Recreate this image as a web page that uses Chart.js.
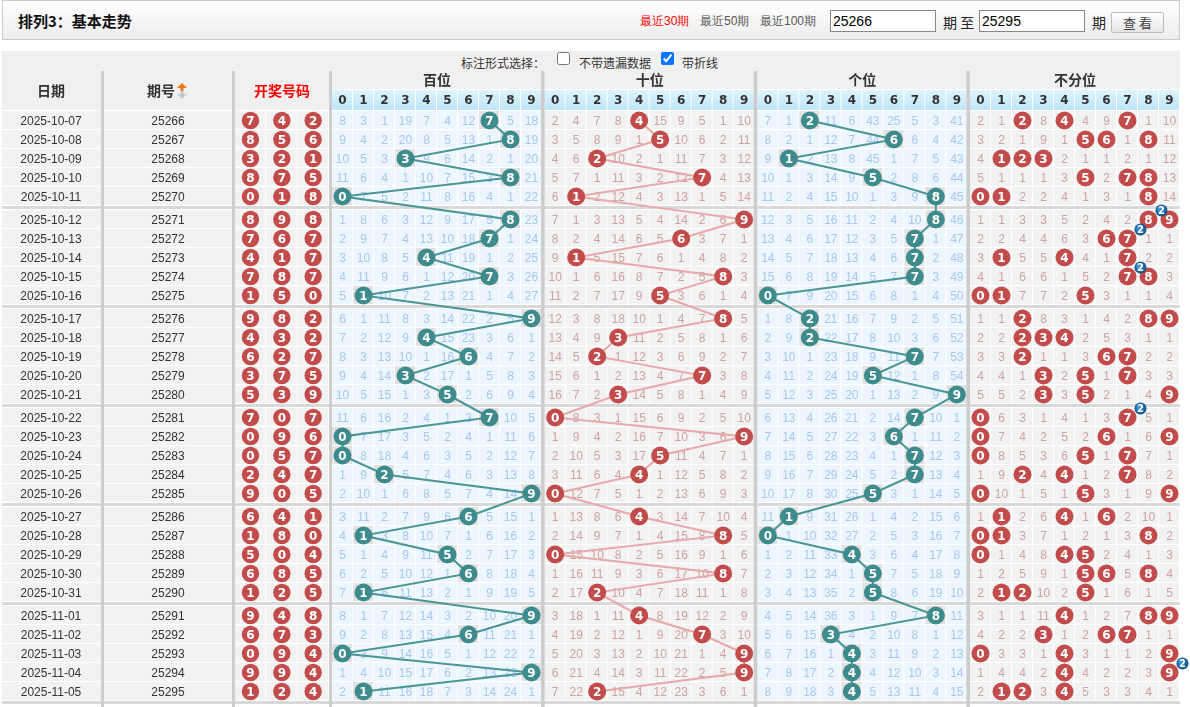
<!DOCTYPE html>
<html>
<head>
<meta charset="utf-8">
<script src="https://cdn.jsdelivr.net/npm/chart.js@4.4.1/dist/chart.umd.min.js"></script>
<style>
  body { margin: 0; background: #fff; width: 1190px; height: 707px; overflow: hidden; position: relative;
         font-family: "Liberation Sans", Arial, sans-serif; font-size: 12px; color: #333; }
  #bar { position: absolute; left: 2px; top: 0; width: 1176px; height: 38px; border: 1px solid #ccc;
         background: linear-gradient(#fff, #ececec); }
  #bar span, #bar input, #bar button { position: absolute; }
  .title { left: 15px; top: 9px; font: bold 15px "Noto Sans CJK SC", sans-serif; color: #111; }
  .lk { top: 12px; font-size: 12px; color: #555; }
  .red { color: #f00; }
  #bar input { top: 9px; width: 100px; height: 18px; border: 1px solid #888; font: 14px "Liberation Sans", Arial; padding: 1px 2px; }
  .qi { top: 11px; font: 14px "Noto Sans CJK SC", sans-serif; color: #222; }
  #bar button { left: 1108px; top: 11px; width: 53px; height: 21px; border: 1px solid #bbb; border-radius: 2px;
                background: linear-gradient(#fff, #e6e6e6); font: 13px "Noto Sans CJK SC", sans-serif; color: #444; padding: 0; }
  #opt { position: absolute; left: 2px; top: 51px; width: 1178px; height: 20px; background: #f0f0f0; }
  #opt span { position: absolute; top: 3px; font: 12px "Noto Sans CJK SC", sans-serif; color: #333; }
  #opt input { position: absolute; top: 1px; margin: 0; width: 13px; height: 13px; }
  #c { position: absolute; left: 0; top: 71px; }
</style>
</head>
<body>
<div id="bar">
  <span class="title">排列3：基本走势</span>
  <span class="lk red" style="left:637px">最近30期</span>
  <span class="lk" style="left:697px">最近50期</span>
  <span class="lk" style="left:757px">最近100期</span>
  <input style="left:827px" value="25266">
  <span class="qi" style="left:940px">期 至</span>
  <input style="left:976px" value="25295">
  <span class="qi" style="left:1089px">期</span>
  <button>查 看</button>
</div>
<div id="opt">
  <span style="left:459px">标注形式选择：</span>
  <input type="checkbox" style="left:555px">
  <span style="left:577px">不带遗漏数据</span>
  <input type="checkbox" checked style="left:659px">
  <span style="left:680px">带折线</span>
</div>
<canvas id="c" width="1190" height="636"></canvas>
<script>
// draw list, oldest first
const dates = ['2025-10-07','2025-10-08','2025-10-09','2025-10-10','2025-10-11',
  '2025-10-12','2025-10-13','2025-10-14','2025-10-15','2025-10-16',
  '2025-10-17','2025-10-18','2025-10-19','2025-10-20','2025-10-21',
  '2025-10-22','2025-10-23','2025-10-24','2025-10-25','2025-10-26',
  '2025-10-27','2025-10-28','2025-10-29','2025-10-30','2025-10-31',
  '2025-11-01','2025-11-02','2025-11-03','2025-11-04','2025-11-05'];
const issues = ['25266','25267','25268','25269','25270','25271','25272','25273','25274','25275',
  '25276','25277','25278','25279','25280','25281','25282','25283','25284','25285',
  '25286','25287','25288','25289','25290','25291','25292','25293','25294','25295'];
const hundreds = [7,8,3,8,0, 8,7,4,7,1, 9,4,6,3,5, 7,0,0,2,9, 6,1,5,6,1, 9,6,0,9,1];
const tens     = [4,5,2,7,1, 9,6,1,8,5, 8,3,2,7,3, 0,9,5,4,0, 4,8,0,8,2, 4,7,9,9,2];
const units    = [2,6,1,5,8, 8,7,7,7,0, 2,2,7,5,9, 7,6,7,7,5, 1,0,4,5,5, 8,3,4,4,4];

// missing counts shown in the first row (0 = drawn)
const baiFirst = [8,3,1,19,7,4,12,0,5,18];
const shiFirst = [2,4,7,8,0,15,9,5,1,10];
const geFirst  = [7,1,0,11,6,43,25,5,3,41];
const allFirst = [2,1,0,8,0,4,9,0,1,10];

const digitLabels = ['0','1','2','3','4','5','6','7','8','9'];
const sectionNames = ['百位','十位','个位','不分位'];

const TEAL = '#3d8b8c', TEAL_LINE = '#4a9596', RED = '#c24b4b', PINK = '#e8a9a9';
const SEC = 10.127;          // one section = 10 cells + border
const ROW_H = 19;
const GROUP_GAP = 4 / ROW_H; // gap between groups of 5 rows
const colX = (s, d) => s * SEC + d;
const rowY = r => r + Math.floor(r / 5) * GROUP_GAP;
const n = dates.length;

const hitAll = (r, d) => hundreds[r] === d || tens[r] === d || units[r] === d;
const sections = [
  { name: sectionNames[0], blue: true,  first: baiFirst, hit: (r, d) => hundreds[r] === d },
  { name: sectionNames[1], blue: false, first: shiFirst, hit: (r, d) => tens[r] === d },
  { name: sectionNames[2], blue: true,  first: geFirst,  hit: (r, d) => units[r] === d },
  { name: sectionNames[3], blue: false, first: allFirst, hit: hitAll }
];

function missing(sec) {
  const out = [];
  for (let r = 0; r < n; r++) {
    const row = [];
    for (let d = 0; d < 10; d++) {
      if (sec.hit(r, d)) row.push(0);
      else row.push(r === 0 ? sec.first[d] : out[r - 1][d] + 1);
    }
    out.push(row);
  }
  return out;
}
sections.forEach(s => { s.miss = missing(s); });

// datasets
const positional = [hundreds, tens, units].map((arr, s) => ({
  data: arr.map((d, r) => ({ x: colX(s, d), y: rowY(r) })),
  labels: arr.slice(),
  showLine: true,
  clip: false,
  borderColor: s === 1 ? PINK : TEAL_LINE,
  borderWidth: 2,
  pointRadius: 9,
  pointHoverRadius: 9,
  pointBorderWidth: 0,
  pointBackgroundColor: s === 1 ? RED : TEAL
}));

const allPts = [], allLabels = [], allCounts = [];
for (let r = 0; r < n; r++) {
  for (let d = 0; d < 10; d++) {
    const c = [hundreds[r], tens[r], units[r]].filter(v => v === d).length;
    if (c) { allPts.push({ x: colX(3, d), y: rowY(r) }); allLabels.push(d); allCounts.push(c); }
  }
}
const combined = {
  data: allPts, labels: allLabels, counts: allCounts, showLine: false, clip: false,
  pointRadius: 9, pointHoverRadius: 9, pointBorderWidth: 0, pointBackgroundColor: RED
};

const tickValues = [];
for (let s = 0; s < 4; s++) for (let d = 0; d < 10; d++) tickValues.push(colX(s, d));

function ball(ctx, x, y, r, color, txt) {
  ctx.beginPath(); ctx.arc(x, y, r, 0, Math.PI * 2);
  ctx.fillStyle = color; ctx.fill();
  ctx.fillStyle = '#fff'; ctx.font = 'bold 12px "DejaVu Sans", sans-serif';
  ctx.textAlign = 'center'; ctx.textBaseline = 'middle';
  ctx.fillText(txt, x, y + 1);
}

const tablePlugin = {
  id: 'table',
  beforeDraw(chart) {
    const ctx = chart.ctx, xs = chart.scales.x, ys = chart.scales.y;
    const H = chart.height, top = chart.chartArea.top;
    const left = [[2, 101], [104, 232], [235, 329]];
    ctx.save();
    ctx.fillStyle = '#fff'; ctx.fillRect(0, 0, chart.width, H);

    // header
    ctx.fillStyle = '#f0f0f0';
    left.forEach(([a, b]) => ctx.fillRect(a, 0, b - a, top - 1));
    ctx.font = 'bold 14px "Noto Sans CJK SC", sans-serif';
    ctx.textAlign = 'center'; ctx.textBaseline = 'middle';
    ctx.fillStyle = '#333';
    ctx.fillText('日期', 51, 20);
    ctx.fillText('期号', 161, 20);
    ctx.fillStyle = '#f00';
    ctx.fillText('开奖号码', 282, 20);
    // sort arrows
    ctx.fillStyle = '#f07818';
    ctx.beginPath(); ctx.moveTo(182, 12); ctx.lineTo(187, 17); ctx.lineTo(177, 17); ctx.fill();
    ctx.fillRect(180.5, 17, 3, 3);
    ctx.fillStyle = '#c8c8c8';
    ctx.beginPath(); ctx.moveTo(182, 28); ctx.lineTo(187, 23); ctx.lineTo(177, 23); ctx.fill();
    ctx.fillRect(180.5, 20, 3, 3);

    sections.forEach((sec, s) => {
      const x0 = xs.getPixelForValue(colX(s, 0) - 0.5), x1 = xs.getPixelForValue(colX(s, 9) + 0.5);
      ctx.fillStyle = '#f0f0f0'; ctx.fillRect(x0, 0, x1 - x0, 18);
      ctx.fillStyle = '#333'; ctx.font = 'bold 14px "Noto Sans CJK SC", sans-serif';
      ctx.fillText(sec.name, (x0 + x1) / 2, 9);
      const g = ctx.createLinearGradient(0, 19, 0, top - 1);
      g.addColorStop(0, '#dff3fc'); g.addColorStop(1, '#bfe6f8');
      ctx.fillStyle = g;
      for (let d = 0; d < 10; d++) {
        const a = xs.getPixelForValue(colX(s, d) - 0.5), b = xs.getPixelForValue(colX(s, d) + 0.5);
        ctx.fillRect(a, 19, b - a - 1, top - 20);
      }
    });

    // body rows
    const rh = Math.abs(ys.getPixelForValue(1) - ys.getPixelForValue(0));
    for (let r = 0; r < n; r++) {
      const yc = ys.getPixelForValue(rowY(r)), y0 = yc - rh / 2;
      ctx.fillStyle = '#f2f2f2';
      ctx.fillRect(2, y0, 99, rh - 1);
      ctx.fillRect(104, y0, 128, rh - 1);
      for (let k = 0; k < 3; k++) ctx.fillRect(235 + k * 31.33, y0, 30.33, rh - 1);
      sections.forEach((sec, s) => {
        for (let d = 0; d < 10; d++) {
          const a = xs.getPixelForValue(colX(s, d) - 0.5), b = xs.getPixelForValue(colX(s, d) + 0.5);
          let bg = sec.blue ? '#edf6fe' : '#f2f2f2';
          if (sec.blue && sec.miss[r][d] === 0) bg = '#e2e2e2';
          ctx.fillStyle = bg;
          ctx.fillRect(a, y0, b - a - 1, rh - 1);
        }
      });
      // texts
      ctx.fillStyle = '#333'; ctx.font = '12px "Liberation Sans", Arial, sans-serif';
      ctx.fillText(dates[r], 51, yc + 1);
      ctx.fillText(issues[r], 168, yc + 1);
      [hundreds[r], tens[r], units[r]].forEach((v, k) => ball(ctx, 250.5 + k * 31.33, yc, 8.7, RED, String(v)));
      ctx.font = '12px "Liberation Sans", Arial, sans-serif';
      sections.forEach((sec, s) => {
        ctx.fillStyle = sec.blue ? '#a7c7ee' : '#cda2a2';
        for (let d = 0; d < 10; d++) {
          const v = sec.miss[r][d];
          if (v) ctx.fillText(String(v), xs.getPixelForValue(colX(s, d)), yc + 1);
        }
      });
      // group separator below every 5th row
      if (r % 5 === 4) {
        ctx.fillStyle = '#d9d9d9';
        ctx.fillRect(2, yc + rh / 2, 1178, GROUP_GAP * rh - 1);
      }
    }

    // vertical borders
    ctx.fillStyle = '#cdcdcd';
    [[101, 104], [232, 235], [329, 332]].forEach(([a, b]) => ctx.fillRect(a, 0, b - a, H));
    for (let s = 0; s < 3; s++) {
      const a = xs.getPixelForValue(colX(s, 9) + 0.5) - 1, b = xs.getPixelForValue(colX(s + 1, 0) - 0.5);
      ctx.fillRect(a, 0, b - a, H);
    }
    ctx.restore();
  },
  afterDatasetsDraw(chart) {
    const ctx = chart.ctx;
    ctx.save();
    const badges = [];
    chart.data.datasets.forEach((ds, i) => {
      const meta = chart.getDatasetMeta(i);
      meta.data.forEach((pt, j) => {
        ctx.fillStyle = '#fff'; ctx.font = 'bold 12px "DejaVu Sans", sans-serif';
        ctx.textAlign = 'center'; ctx.textBaseline = 'middle';
        ctx.fillText(String(ds.labels[j]), pt.x, pt.y + 1);
        if (ds.counts && ds.counts[j] > 1) badges.push([pt.x + 13, pt.y - 9, ds.counts[j]]);
      });
    });
    badges.forEach(([x, y, c]) => {
      const g = ctx.createRadialGradient(x - 2, y - 2, 1, x, y, 6);
      g.addColorStop(0, '#3f9ae0'); g.addColorStop(1, '#0d4f88');
      ctx.beginPath(); ctx.arc(x, y, 6, 0, Math.PI * 2);
      ctx.fillStyle = g; ctx.fill();
      ctx.fillStyle = '#fff'; ctx.font = 'bold 10px "DejaVu Sans", sans-serif';
      ctx.fillText(String(c), x, y + 0.5);
    });
    ctx.restore();
  }
};

const chart = new Chart(document.getElementById('c'), {
  type: 'scatter',
  data: { datasets: [...positional, combined] },
  options: {
    responsive: false,
    animation: false,
    events: [],
    layout: { padding: { left: 332, right: 10, top: 20, bottom: 0 } },
    plugins: { legend: { display: false }, tooltip: { enabled: false } },
    scales: {
      x: {
        type: 'linear', position: 'top', min: -0.5, max: colX(3, 9) + 0.5,
        grid: { display: false, drawTicks: false }, border: { display: false },
        afterBuildTicks: s => { s.ticks = tickValues.map(v => ({ value: v })); },
        afterFit: s => { s.height = 20; },
        ticks: { autoSkip: false, maxRotation: 0, padding: 3, color: '#333',
                 font: { family: '"DejaVu Sans", sans-serif', weight: 'bold', size: 12 },
                 callback: (v, i) => digitLabels[i % 10] }
      },
      y: {
        type: 'linear', display: false, reverse: true, min: -0.5, max: -0.5 + 596 / ROW_H
      }
    }
  },
  plugins: [tablePlugin]
});
// keep each row exactly ROW_H pixels tall
const areaH = chart.chartArea.bottom - chart.chartArea.top;
chart.options.scales.y.max = -0.5 + areaH / ROW_H;
chart.update();
</script>
</body>
</html>
